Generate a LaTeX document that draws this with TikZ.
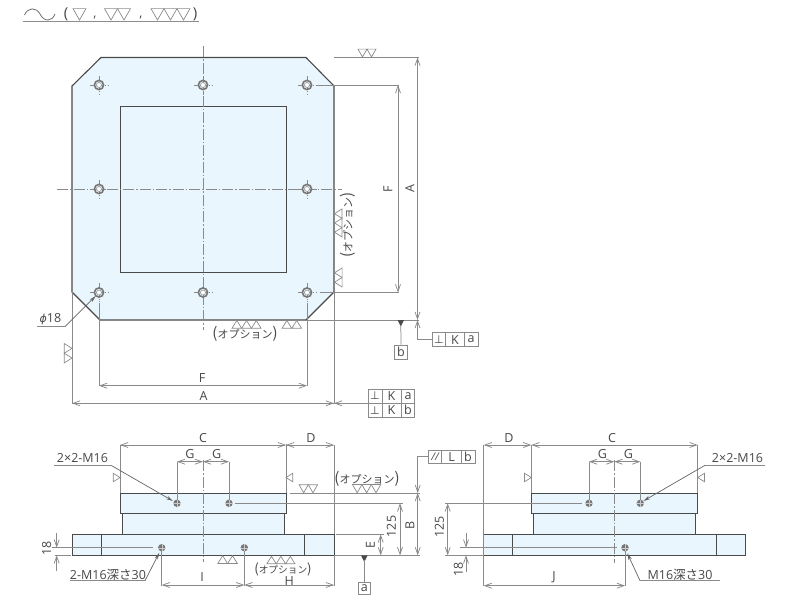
\documentclass[tikz,border=0pt]{standalone}
\usepackage{fontspec}
\setmainfont{Open Sans}
\newfontfamily\jp{Noto Sans CJK JP}
\newfontfamily\sym{DejaVu Sans}
\usetikzlibrary{arrows.meta}
\definecolor{outl}{HTML}{4A4A4A}
\definecolor{dim}{HTML}{8A8A8A}
\definecolor{wld}{HTML}{8C8C8C}
\definecolor{pale}{HTML}{EAF6FE}
\definecolor{txt}{HTML}{484848}
\newcommand\optext{{\fontsize{15}{15}\selectfont(}オプション{\fontsize{15}{15}\selectfont)}}
\tikzset{
  body/.style={draw=outl,line width=1pt,fill=pale,line join=miter},
  thinbody/.style={draw=outl,line width=0.8pt},
  dimline/.style={draw=dim,line width=0.75pt},
  dimarrow/.style={dimline,{Straight Barb[length=7pt,width=5pt]}-{Straight Barb[length=7pt,width=5pt]}},
  tipend/.style={dimline,-{Straight Barb[length=7pt,width=5pt]}},
  leader/.style={draw=outl!85,line width=0.7pt,-{Stealth[length=7pt,width=3.5pt]}},
  center/.style={draw=dim,line width=0.8pt,dash pattern=on 11pt off 2pt on 1.5pt off 2pt},
  weldline/.style={draw=wld,line width=0.7pt,line join=miter},
  lbl/.style={text=txt,inner sep=0pt,font=\fontsize{12.5}{12.5}\selectfont},
  optlbl/.style={text=txt,inner sep=0pt,font=\fontsize{11}{11}\selectfont\jp},
  gdtbox/.style={draw=dim,line width=0.8pt,fill=white},
  gdtlbl/.style={text=txt,inner sep=0pt,font=\fontsize{12.5}{12.5}\selectfont},
}
\newcommand\weldD[4]{\foreach \i in {1,...,#3}{\draw[weldline] ({#1+(\i-1)*#4},{#2-0.875*#4}) -- ({#1+(\i-0.5)*#4},#2) -- ({#1+\i*#4},{#2-0.875*#4}) -- cycle;}}
\newcommand\weldU[4]{\foreach \i in {1,...,#3}{\draw[weldline] ({#1+(\i-1)*#4},{#2+0.8*#4}) -- ({#1+(\i-0.5)*#4},#2) -- ({#1+\i*#4},{#2+0.8*#4}) -- cycle;}}
\newcommand\weldL[4]{\foreach \i in {1,...,#3}{\draw[weldline] ({#1+0.8*#4},{#2+(\i-1)*#4}) -- (#1,{#2+(\i-0.5)*#4}) -- ({#1+0.8*#4},{#2+\i*#4}) -- cycle;}}
\newcommand\weldR[4]{\foreach \i in {1,...,#3}{\draw[weldline] ({#1-0.8*#4},{#2+(\i-1)*#4}) -- (#1,{#2+(\i-0.5)*#4}) -- ({#1-0.8*#4},{#2+\i*#4}) -- cycle;}}
\newcommand\platehole[2]{%
  \draw[dim,line width=0.6pt,dash pattern=on 5pt off 1.5pt on 1pt off 1.5pt] (#1-9.5,#2) -- (#1+9.5,#2);
  \draw[dim,line width=0.6pt,dash pattern=on 5pt off 1.5pt on 1pt off 1.5pt] (#1,#2-9.5) -- (#1,#2+9.5);
  \draw[outl!75,line width=1.6pt] (#1,#2) circle (4.6);
  \draw[outl!60,fill=white,line width=0.6pt] (#1,#2) circle (2.5);}
\newcommand\sidehole[2]{%
  \fill[outl!75] (#1,#2) circle (3.7);
  \draw[white!70!outl,line width=0.3pt] (#1-3.7,#2) -- (#1+3.7,#2) (#1,#2-3.7) -- (#1,#2+3.7);}
\begin{document}
\begin{tikzpicture}[x=1pt,y=-1pt]
\useasboundingbox (0,0) rectangle (800,600);
\fill[white] (0,0) rectangle (800,600);
% legend
\draw[wld,line width=0.8pt] (23,21) -- (199,21);
\draw[outl!80,line width=0.8pt] (24.5,15) .. controls (28,7) and (36,7) .. (40,14) .. controls (44,22) and (52,22) .. (55,14);
\node[lbl,font=\fontsize{15}{15}\selectfont] (lp) at (66,14) {(};
\node[lbl,font=\fontsize{15}{15}\selectfont] (rp) at (195,14) {)};
\node[lbl] (c1) at (95,18) {,};
\node[lbl] (c2) at (141,18) {,};
\weldD{73}{20}{1}{13}
\weldD{104.5}{20}{2}{13}
\weldD{151}{20}{3}{13}
% plan view
\draw[body,line width=1.1pt] (101,57.5) -- (306,57.5) -- (334,86) -- (334,292) -- (306,320) -- (100,320) -- (72,292) -- (72,86) -- cycle;
\draw[thinbody,line width=1pt] (120,106) rectangle (286.5,272);
\draw[center] (203,46) -- (203,330);
\draw[center] (57,189) -- (342,189);
\foreach \hx/\hy in {99/85,203/85,307/85,99/189,307/189,99/292.5,203/292.5,307/292.5}{\platehole{\hx}{\hy}}
% plan dims
\draw[dimline] (334,57.5) -- (419,57.5);
\draw[dimline] (316,85) -- (399,85);
\draw[dimline] (320,292.5) -- (399,292.5);
\draw[dimline] (306,320) -- (419,320);
\draw[dimarrow] (398,85) -- (398,292.5);
\draw[dimarrow] (417.5,57.5) -- (417.5,320);
\node[lbl,rotate=90] (lF1) at (388,189) {F};
\node[lbl,rotate=90] (lA1) at (410,189) {A};
\draw[dimline] (99,303) -- (99,386);
\draw[dimline] (307,303) -- (307,386);
\draw[dimline] (72,291) -- (72,404);
\draw[dimline] (334,292) -- (334,404);
\draw[dimarrow] (99,385.7) -- (307,385.7);
\draw[dimline,{Straight Barb[length=7pt,width=5pt]}-] (72,403.3) -- (334,403.3);
\draw[tipend] (368.5,403.3) -- (334,403.3);
\draw[tipend] (300,403.3) -- (334,403.3);
\node[lbl] (lF2) at (202,378) {F};
\node[lbl] (lA2) at (203.5,396) {A};
% welds plan
\weldD{358}{57}{2}{9}
\weldL{334.5}{209}{3}{9.3}
\weldL{334.5}{268}{2}{9.5}
\weldU{282}{320.5}{2}{9.8}
\weldU{232}{320.5}{3}{9.7}
\weldR{72}{343.5}{2}{9.7}
\node[optlbl] (opt1) at (245,334) {\optext};
\node[optlbl,rotate=90] (opt2) at (347.5,225) {\optext};
% phi18
\node[lbl] (phi) at (50.5,319) {{\sym\itshape\fontsize{11}{11}\selectfont ϕ}18};
\draw[dimline] (37,326.7) -- (65,326.7);
\coordinate (h1) at (95.7,296);
\draw[leader] (65,326.7) -- (h1);
% datum b
\fill[outl] (397.5,320) -- (404,320) -- (400.8,326.5) -- cycle;
\node[draw=dim,line width=0.8pt,minimum width=13.4pt,minimum height=14pt,inner sep=0pt,text=txt,font=\fontsize{12.5}{12.5}\selectfont] (datb) at (401,352) {b};
\draw[dimline] (400.8,325) -- (datb.north);
% gdt 1
\node[gdtbox,minimum width=46pt,minimum height=14pt,inner sep=0pt] (g1) at (455,339.7) {};
\draw[dim,line width=0.8pt] (445.7,332.7) -- (445.7,346.7) (464,332.7) -- (464,346.7);
\node[gdtlbl,font=\fontsize{11}{11}\selectfont\sym] (g1a) at (438.8,339.7) {⊥};
\node[gdtlbl] (g1b) at (455,339.7) {K};
\node[gdtlbl] (g1c) at (471,339.5) {a};
\draw[tipend] (g1.west) -- (417.5,339.7) -- (417.5,320);
% gdt 2
\node[gdtbox,minimum width=46pt,minimum height=28.3pt,inner sep=0pt] (g2) at (391.3,403.2) {};
\draw[dim,line width=0.8pt] (368.3,403.3) -- (414.3,403.3) (382,389) -- (382,417.3) (401.7,389) -- (401.7,417.3);
\node[gdtlbl,font=\fontsize{11}{11}\selectfont\sym] (g2a) at (375,396) {⊥};
\node[gdtlbl] (g2b) at (391.5,396) {K};
\node[gdtlbl] (g2c) at (408,396) {a};
\node[gdtlbl,font=\fontsize{11}{11}\selectfont\sym] (g2d) at (375,410.3) {⊥};
\node[gdtlbl] (g2e) at (391.5,410.3) {K};
\node[gdtlbl] (g2f) at (408,410.3) {b};
% left elevation
\draw[body] (122,513.7) rectangle (284.3,534.3);
\draw[body] (120,493) rectangle (286,513.7);
\draw[body] (72,534.3) rectangle (334,555.3);
\draw[thinbody,line width=0.7pt] (101.3,534.3) -- (101.3,555.3) (304.7,534.3) -- (304.7,555.3);
\draw[center] (203,460) -- (203,562);
\draw[dimline] (120,445) -- (120,493);
\draw[dimline] (286,444) -- (286,493);
\draw[dimline] (334,445) -- (334,534);
\draw[dimarrow] (120,445) -- (286,445);
\draw[dimarrow] (286,445) -- (334,445);
\node[lbl] (lC) at (203,438.5) {C};
\node[lbl] (lD) at (311,438.5) {D};
\draw[dimline] (177,461.7) -- (177,500);
\draw[dimline] (229,461.7) -- (229,500);
\draw[dimarrow] (177,461.7) -- (203,461.7);
\draw[dimarrow] (203,461.7) -- (229,461.7);
\node[lbl] (lG1) at (190,454.5) {G};
\node[lbl] (lG2) at (216.7,454.5) {G};
\weldR{120}{473.3}{1}{8.4}
\weldL{286}{473.3}{1}{8.4}
\weldD{299}{492.8}{2}{9.3}
\weldD{352.5}{492.8}{3}{9.4}
\node[optlbl,anchor=south] (opt3b) at (367,487) {\optext};
\draw[dimline] (289.5,493) -- (420,493);
\draw[dimline] (235,503.3) -- (403,503.3);
\draw[dimline] (336,534.3) -- (384,534.3);
\draw[dimline] (334,555.3) -- (420,555.3);
\draw[dimarrow] (400,503.3) -- (400,555.3);
\draw[dimarrow] (417.7,493) -- (417.7,555.3);
\draw[dimarrow] (380.7,534.3) -- (380.7,555.3);
\node[lbl,rotate=90] (l125a) at (391.5,526.5) {125};
\node[lbl,rotate=90] (lB) at (410,525.7) {B};
\node[lbl,rotate=90] (lE) at (370.5,545) {E};
% gdt 3
\node[gdtbox,minimum width=46.7pt,minimum height=13.3pt,inner sep=0pt] (g3) at (451.7,456.7) {};
\draw[dim,line width=0.8pt] (441.7,450) -- (441.7,463.3) (461,450) -- (461,463.3);
\node[gdtlbl,font=\fontsize{10.5}{10.5}\selectfont\itshape] (g3a) at (435,456.7) {//};
\node[gdtlbl] (g3b) at (451.5,456.7) {L};
\node[gdtlbl] (g3c) at (468,456.7) {b};
\draw[tipend] (g3.west) -- (417.7,456.7) -- (417.7,493);
% datum a
\fill[outl] (361,555.3) -- (367.6,555.3) -- (364.3,562) -- cycle;
\node[draw=dim,line width=0.8pt,minimum width=12.7pt,minimum height=12pt,inner sep=0pt,text=txt,font=\fontsize{12.5}{12.5}\selectfont] (data) at (364.3,588.3) {a};
\draw[dimline] (364.3,560) -- (data.north);
% left holes and dims
\sidehole{177}{503.3}
\sidehole{229}{503.3}
\sidehole{161.7}{547.7}
\sidehole{244.3}{547.7}
\node[lbl] (m1) at (82.5,458) {2×2-M16};
\draw[dimline] (54,465.7) -- (111.7,465.7);
\coordinate (h2) at (173,501);
\draw[leader] (111.7,465.7) -- (h2);
\draw[dimline] (51.7,547.7) -- (153,547.7);
\draw[dimline] (55,555.3) -- (71,555.3);
\draw[tipend] (56.7,533) -- (56.7,547.7);
\draw[tipend] (56.7,571) -- (56.7,555.3);
\node[lbl,rotate=90] (l18a) at (46.7,548.3) {18};
\node[lbl] (m2) at (108,574.5) {2-M16{\jp 深さ}30};
\draw[dimline] (70,580.7) -- (145,580.7);
\coordinate (h3) at (159.3,552.7);
\draw[leader] (145,580.7) -- (h3);
\draw[dimline] (161.7,551) -- (161.7,586);
\draw[dimline] (244.3,551) -- (244.3,586);
\draw[dimline] (334,555.3) -- (334,586);
\draw[dimarrow] (161.7,585) -- (244.3,585);
\draw[dimarrow] (244.3,585) -- (334,585);
\node[lbl] (lI) at (202,577.5) {I};
\node[lbl] (lH) at (289.3,581) {H};
\weldU{217.8}{555.7}{2}{9.8}
\weldU{266.8}{556.3}{3}{9.4}
\node[optlbl,scale=0.88] (opt4) at (283,569) {\optext};
% right elevation
\draw[body] (533.3,513.7) rectangle (695.7,534.3);
\draw[body] (531.3,493) rectangle (697.7,513.7);
\draw[body] (483.7,534.3) rectangle (745.7,555.3);
\draw[thinbody,line width=0.7pt] (512.3,534.3) -- (512.3,555.3) (716.7,534.3) -- (716.7,555.3);
\draw[center] (614.3,460) -- (614.3,562.7);
\draw[dimline] (483.7,445) -- (483.7,586);
\draw[dimline] (531.3,445) -- (531.3,493);
\draw[dimline] (697.7,445) -- (697.7,493);
\draw[dimarrow] (483.7,445) -- (531.3,445);
\draw[dimarrow] (531.3,445) -- (697.7,445);
\node[lbl] (lD2) at (509,438.5) {D};
\node[lbl] (lC2) at (612,438.5) {C};
\draw[dimline] (589,461.7) -- (589,500);
\draw[dimline] (640.3,461.7) -- (640.3,500);
\draw[dimarrow] (589,461.7) -- (614.3,461.7);
\draw[dimarrow] (614.3,461.7) -- (640.3,461.7);
\node[lbl] (lG3) at (602.3,454) {G};
\node[lbl] (lG4) at (628.3,454) {G};
\weldR{531.3}{473.3}{1}{8.4}
\weldL{697.7}{473.3}{1}{8.4}
\sidehole{589}{503.3}
\sidehole{640.3}{503.3}
\sidehole{625}{547.7}
\node[lbl] (m3) at (737.5,458) {2×2-M16};
\draw[dimline] (705,465.3) -- (765,465.3);
\coordinate (h4) at (643.3,501);
\draw[leader] (705,465.3) -- (h4);
\draw[dimline] (445,503.3) -- (581.7,503.3);
\draw[dimline] (445,555.3) -- (483,555.3);
\draw[dimarrow] (447.7,503.3) -- (447.7,555.3);
\node[lbl,rotate=90] (l125b) at (439.3,526.7) {125};
\draw[dimline] (460,547.7) -- (617,547.7);
\draw[tipend] (466,533.3) -- (466,547.7);
\draw[tipend] (466,571.5) -- (466,555.3);
\node[lbl,rotate=90] (l18b) at (458.3,569.3) {18};
\draw[dimline] (625,551) -- (625,586);
\draw[dimarrow] (483.7,585.7) -- (625,585.7);
\node[lbl] (lJ) at (554,577.7) {J};
\node[lbl] (m4) at (680,574.5) {M16{\jp 深さ}30};
\draw[dimline] (640,580.7) -- (720,580.7);
\coordinate (h5) at (627.3,553.3);
\draw[leader] (640,580.7) -- (h5);
\end{tikzpicture}
\end{document}
